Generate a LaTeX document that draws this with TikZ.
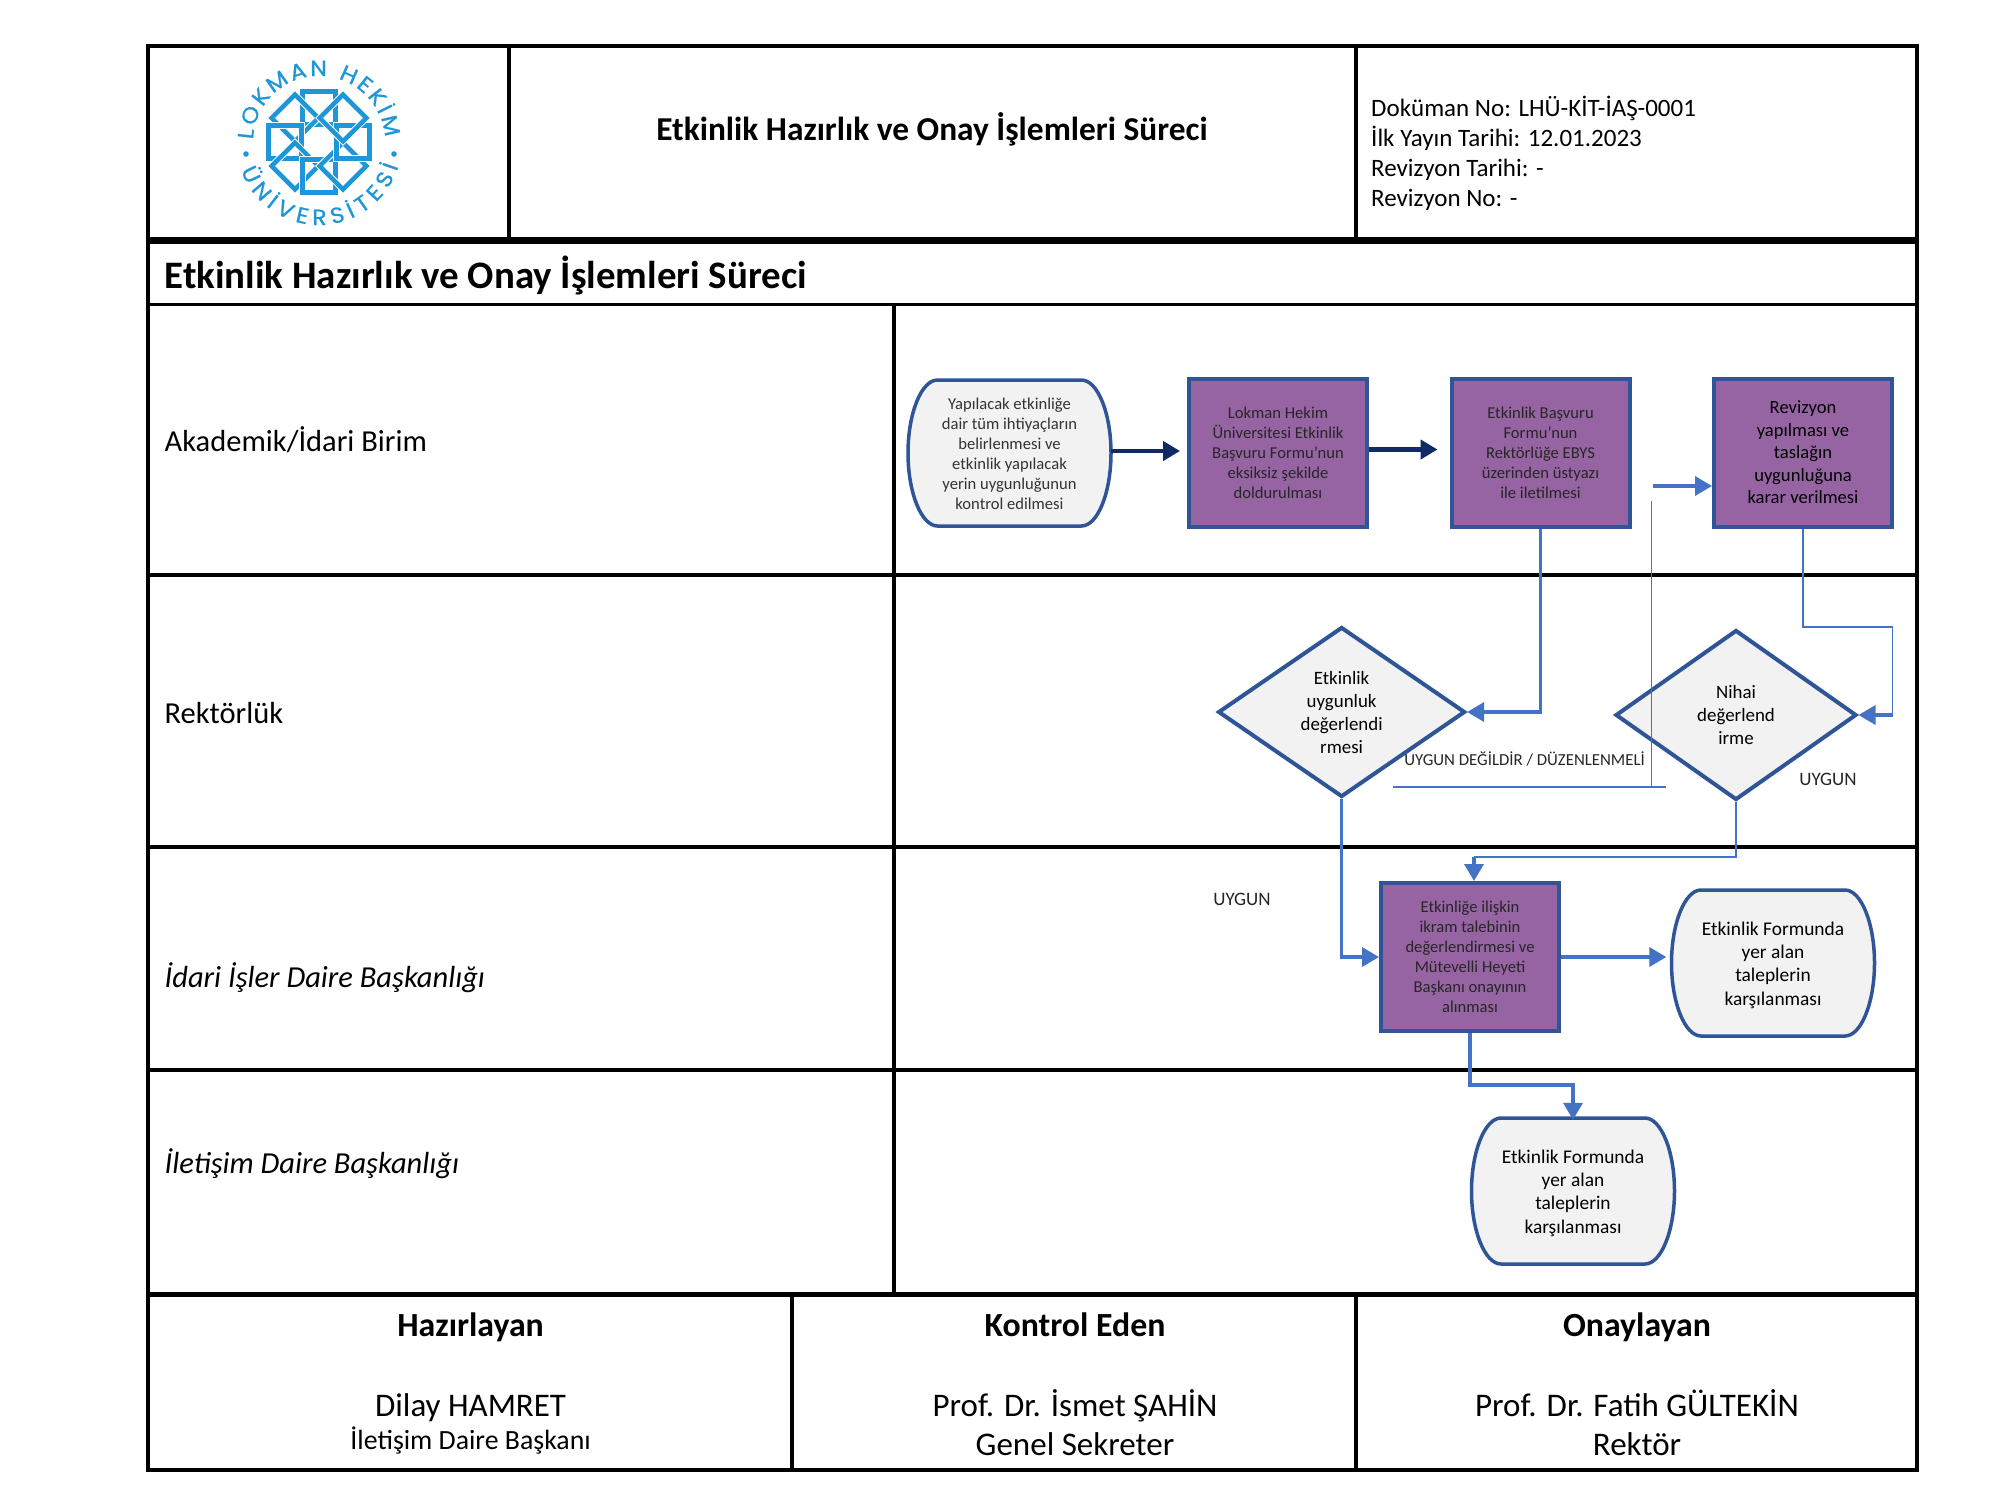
\documentclass[tikz,border=0pt]{standalone}
\usepackage{fontspec}
\setmainfont{Carlito}
\newfontfamily\logofont[FakeBold=0.8,FakeStretch=1.08]{Poppins}
\usetikzlibrary{arrows.meta,shapes.geometric,decorations.text}
\definecolor{lhblue}{HTML}{1E96D8}
\definecolor{flowblue}{HTML}{4472C4}
\definecolor{edgeblue}{HTML}{2F5597}
\definecolor{navyflow}{HTML}{0F2A66}
\definecolor{formpurple}{HTML}{9664A3}
\definecolor{termgray}{HTML}{F2F2F2}
\newcommand{\fs}[2]{\fontsize{#1}{#2}\selectfont}
% bowed outline that goes under a termbox node
\newcommand{\termshape}[1]{
    \filldraw[draw=edgeblue,line width=3.5pt,fill=termgray,shift={(#1)}]
        (-72,-73) -- (72,-73) .. controls (88,-73) and (101.5,-40) .. (101.5,0)
        .. controls (101.5,40) and (88,73) .. (72,73) -- (-72,73)
        .. controls (-88,73) and (-101.5,40) .. (-101.5,0)
        .. controls (-101.5,-40) and (-88,-73) .. (-72,-73) -- cycle;
}
\tikzset{>={Triangle[length=17pt,width=19pt]}}
\tikzset{
    formbox/.style={rectangle,draw=edgeblue,line width=4pt,fill=formpurple,
        minimum width=178pt,minimum height=148pt,align=center,inner sep=0pt,text=black!85},
    termbox/.style={rectangle,minimum width=203pt,minimum height=146pt,align=center,inner sep=0pt},
    gate/.style={diamond,shape aspect=1.46,draw=edgeblue,line width=4pt,fill=termgray,
        minimum width=247pt,minimum height=170pt,align=center,inner sep=0pt},
    thickflow/.style={->,draw=flowblue,line width=3.5pt},
    navyarrow/.style={->,draw=navyflow,line width=4.5pt,shorten >=7pt},
    thinflow/.style={draw=flowblue,line width=1.2pt},
    tblline/.style={line width=3.5pt},
    rowlabel/.style={anchor=west,inner sep=0pt,font=\fs{30.5}{36}},
    signhead/.style={anchor=base,inner sep=0pt,font=\bfseries\fs{33.8}{40}},
    signtext/.style={inner sep=0pt,align=center,font=\fs{33}{39.5}},
    smalllabel/.style={inner sep=0pt,font=\fs{16.8}{20},text=black!85},
}
\begin{document}
\begin{tikzpicture}[x=1pt,y=-1pt]
    \useasboundingbox (0,0) rectangle (2000,1500);
    \fill[white] (0,0) rectangle (2000,1500);
    % table
    \draw[tblline] (148,46) rectangle (1917,1470);
    \draw[tblline] (509,46) -- (509,240);
    \draw[tblline] (1356,46) -- (1356,240);
    \draw[line width=7pt] (148,240) -- (1917,240);
    \draw[line width=3pt] (148,304) -- (1917,304);
    \foreach \rowy in {575,847,1070} {
        \draw[tblline] (148,\rowy) -- (1917,\rowy);
    }
    \draw[line width=5pt] (148,1294) -- (1917,1294);
    \draw[tblline] (894,304) -- (894,1294);
    \draw[tblline] (792,1294) -- (792,1470);
    \draw[tblline] (1356,1294) -- (1356,1470);
    % logo
    \foreach \ang in {0,45,...,315} {
        \draw[white,line width=6.5pt,rotate around={\ang:(319,142)}]
            (319,108) ++(-16.5,-16.5) rectangle ++(33,33);
        \draw[lhblue,line width=4.5pt,rotate around={\ang:(319,142)}]
            (319,108) ++(-16.5,-16.5) rectangle ++(33,33);
    }
    \path[decorate,decoration={text along path,text align={fit to path},
        text={|\logofont\fs{22}{22}\color{lhblue}|LOKMAN HEKİM}}]
        (319,142) ++(182:66) arc[start angle=182,end angle=356,radius=66];
    \path[decorate,decoration={text along path,text align={fit to path},
        text={|\logofont\fs{22}{22}\color{lhblue}|ÜNİVERSİTESİ}}]
        (319,142) ++(160:83) arc[start angle=160,end angle=17,radius=83];
    \fill[lhblue] (246,154) circle (2.8);
    \fill[lhblue] (394,154) circle (2.8);
    % header
    \node[inner sep=0pt,font=\bfseries\fs{33.4}{38}] (headtitle) at (932,129) {Etkinlik Hazırlık ve Onay İşlemleri Süreci};
    \node[anchor=west,inner sep=0pt,align=left,font=\fs{25}{30}] (headinfo) at (1371,153)
        {Doküman No: LHÜ-KİT-İAŞ-0001\\İlk Yayın Tarihi: 12.01.2023\\Revizyon Tarihi: -\\Revizyon No: -};
    \node[anchor=west,inner sep=0pt,font=\bfseries\fs{38.9}{44}] (maintitle) at (164.5,275) {Etkinlik Hazırlık ve Onay İşlemleri Süreci};
    % rows
    \node[rowlabel] (rowbirim) at (164.5,440) {Akademik/İdari Birim};
    \node[rowlabel] (rowrektor) at (164.5,713) {Rektörlük};
    \node[rowlabel,font=\itshape\fs{30.5}{36}] (rowidari) at (164.5,978) {İdari İşler Daire Başkanlığı};
    \node[rowlabel,font=\itshape\fs{30.5}{36}] (rowiletisim) at (164.5,1164) {İletişim Daire Başkanlığı};
    % footer
    \node[signhead] (hazirlayan) at (470.6,1336) {Hazırlayan};
    \node[signhead] (kontrol) at (1075,1336) {Kontrol Eden};
    \node[signhead] (onaylayan) at (1637,1336) {Onaylayan};
    \node[signtext] (dilay) at (470.6,1407.5) {Dilay HAMRET};
    \node[inner sep=0pt,font=\fs{27.8}{32}] (dilaygorev) at (470.6,1440) {İletişim Daire Başkanı};
    \node[signtext] (ismet) at (1075,1422.5) {Prof. Dr. İsmet ŞAHİN\\Genel Sekreter};
    \node[signtext] (fatih) at (1637,1422.5) {Prof. Dr. Fatih GÜLTEKİN\\Rektör};
    % flow
    \termshape{1009.5,453}
    \node[termbox,font=\fs{16.6}{20.1},text=black!80] (ihtiyac) at (1009.5,454)
        {Yapılacak etkinliğe\\dair tüm ihtiyaçların\\belirlenmesi ve\\etkinlik yapılacak\\yerin uygunluğunun\\kontrol edilmesi};
    \node[formbox,font=\fs{16.6}{20.1}] (basvuru) at (1278,452.5)
        {Lokman Hekim\\Üniversitesi Etkinlik\\Başvuru Formu'nun\\eksiksiz şekilde\\doldurulması};
    \node[formbox,font=\fs{16.6}{20.1}] (ebys) at (1540.5,452.5)
        {Etkinlik Başvuru\\Formu'nun\\Rektörlüğe EBYS\\üzerinden üstyazı\\ile iletilmesi};
    \node[formbox,font=\fs{18.6}{22.5},text=black] (revizyon) at (1803,452.5)
        {Revizyon\\yapılması ve\\taslağın\\uygunluğuna\\karar verilmesi};
    \node[gate,font=\fs{18.9}{23}] (uygunluk) at (1341.6,712)
        {Etkinlik\\uygunluk\\değerlendi\\rmesi};
    \node[gate,minimum width=241pt,font=\fs{18.9}{23}] (nihai) at (1736,715)
        {Nihai\\değerlend\\irme};
    \node[formbox,font=\fs{16.6}{20.1}] (ikram) at (1470,957)
        {Etkinliğe ilişkin\\ikram talebinin\\değerlendirmesi ve\\Mütevelli Heyeti\\Başkanı onayının\\alınması};
    \termshape{1773,963}
    \node[termbox,font=\fs{19.4}{23.3}] (idaretalep) at (1773,965)
        {Etkinlik Formunda\\yer alan\\taleplerin\\karşılanması};
    \termshape{1573,1191}
    \node[termbox,font=\fs{19.4}{23.3}] (iletisimtalep) at (1573,1193)
        {Etkinlik Formunda\\yer alan\\taleplerin\\karşılanması};
    \node[smalllabel] (uygundegil) at (1524.6,759) {UYGUN DEĞİLDİR / DÜZENLENMELİ};
    \node[smalllabel,font=\fs{19}{22}] (uygunnihai) at (1828,779) {UYGUN};
    \node[smalllabel,font=\fs{19}{22}] (uygunsol) at (1242,899) {UYGUN};
    % free ends
    \coordinate (revstart) at (1653,486);
    \coordinate (rettop) at (1651.5,501);
    \coordinate (retcorner) at (1651.5,787);
    \coordinate (retleft) at (1393,787);
    \coordinate (retright) at (1665.5,787);
    \coordinate (revdown) at (1892.5,627);
    \coordinate (revin) at (1892.5,715);
    \coordinate (ikramin) at (1474,857);
    % connectors
    \draw[navyarrow] ([yshift=3pt]ihtiyac.east) -- ([yshift=3pt]ihtiyac.east -| basvuru.west);
    \draw[navyarrow,shorten >=12pt] ([yshift=3pt]basvuru.east) -- ([yshift=3pt]ebys.west);
    \draw[thickflow] (revstart) -- (revstart -| revizyon.west);
    \draw[thinflow] (rettop) -- (retcorner);
    \draw[thinflow] (retleft) -- (retright);
    \draw[thickflow] (ebys.south) |- (uygunluk.east);
    \draw[thinflow] (revizyon.south) |- (revdown) -- (revin);
    \draw[thickflow] (revin) -- (nihai.east);
    \draw[thickflow] (uygunluk.south) |- (ikram.west);
    \draw[thinflow] (nihai.south) |- (ikramin);
    \draw[thickflow] (ikramin) -- (ikramin |- ikram.north);
    \draw[thickflow,shorten >=5pt] (ikram.east) -- (ikram.east -| idaretalep.west);
    \draw[thickflow] (ikram.south) -- ++(0,52) -| (iletisimtalep.north);
\end{tikzpicture}
\end{document}
